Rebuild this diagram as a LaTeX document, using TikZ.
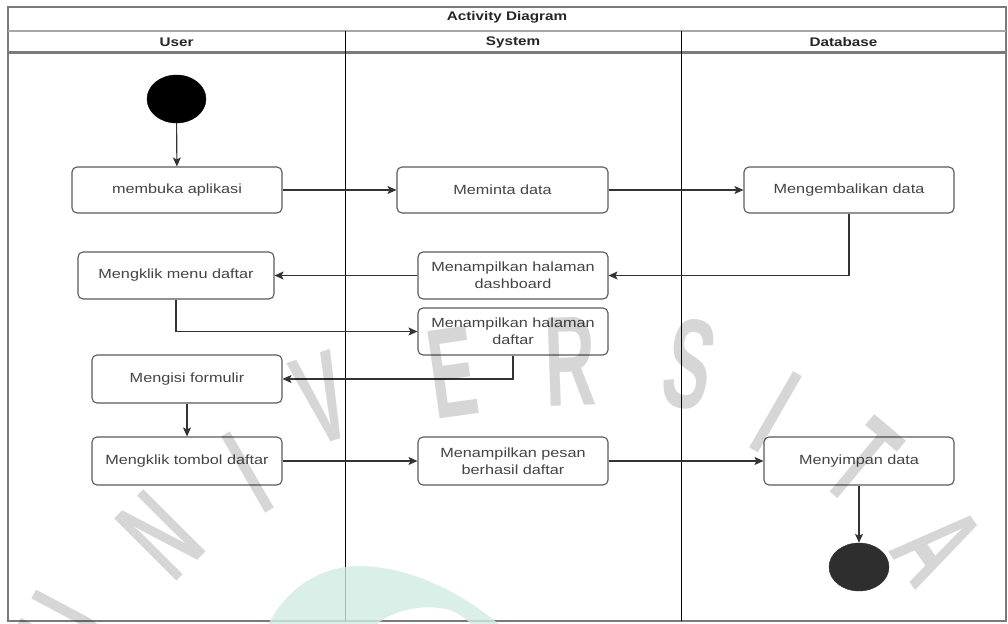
\documentclass[tikz,border=0pt]{standalone}
\usepackage{fontspec}
\setmainfont[FakeStretch=1.22]{Liberation Sans}
\newfontfamily\wmfont{Liberation Sans}
\usetikzlibrary{arrows.meta,shapes.geometric}
\definecolor{boxline}{HTML}{5A5A5A}
\definecolor{boxtext}{HTML}{444444}
\definecolor{laneline}{HTML}{7A7A7A}
\definecolor{teal}{HTML}{D3EBE4}
\tikzset{
  actbox/.style={draw=boxline, line width=1.1pt, rounded corners=5pt, fill=white,
    text=boxtext, align=center, font=\fontsize{13.3}{17}\selectfont, inner sep=2pt},
  startnode/.style={ellipse, fill=black, draw=black, minimum width=59pt, minimum height=48pt, inner sep=0pt},
  endnode/.style={ellipse, fill=black!82, draw=black!82, minimum width=60pt, minimum height=48pt, inner sep=0pt},
  flow/.style={draw=black!80, line width=1.1pt, -{Stealth[length=9pt,width=8pt,inset=2pt]}},
  hdr/.style={font=\bfseries\fontsize{12.5}{14}\selectfont, text=black!85},
  wm/.style={text=black, opacity=0.16, font=\wmfont\bfseries\fontsize{128}{128}\selectfont, inner sep=0pt}
}
\begin{document}
\begin{tikzpicture}[x=1pt,y=-1pt]
\useasboundingbox (0,0) rectangle (1008,623);
\fill[white] (0,0) rectangle (1008,623);

% pool frame, title band and lane headers
\draw[laneline, line width=1.6pt] (8,7) rectangle (1006,621);
\draw[black!35, line width=2.6pt] (8,31) -- (1006,31);
\draw[laneline, line width=2.6pt] (8,52.5) -- (1006,52.5);
\draw[black, line width=1pt] (345,31) -- (345,621);
\draw[black, line width=1pt] (681,31) -- (681,621);
\node[hdr] (title) at (507,17) {Activity Diagram};
\node[hdr] (huser) at (176.5,42) {User};
\node[hdr] (hsys) at (513,42) {System};
\node[hdr] (hdb) at (843.5,42) {Database};

% activities
\node[startnode] (start) at (176.5,99) {};
\node[actbox, minimum width=210pt, minimum height=46pt] (buka) at (177,190) {membuka aplikasi};
\node[actbox, minimum width=211pt, minimum height=46pt] (minta) at (502.5,190) {Meminta data};
\node[actbox, minimum width=210pt, minimum height=46pt] (kembali) at (849,190) {Mengembalikan data};
\node[actbox, minimum width=196pt, minimum height=47pt] (menu) at (176,275.5) {Mengklik menu daftar};
\node[actbox, minimum width=190pt, minimum height=47pt] (dash) at (513,275.5) {Menampilkan halaman\\dashboard};
\node[actbox, minimum width=190pt, minimum height=47pt] (hdaftar) at (513,331.5) {Menampilkan halaman\\daftar};
\node[actbox, minimum width=190pt, minimum height=48pt] (isi) at (187,379) {Mengisi formulir};
\node[actbox, minimum width=190pt, minimum height=48pt] (tombol) at (187,461) {Mengklik tombol daftar};
\node[actbox, minimum width=190pt, minimum height=48pt] (pesan) at (513,461) {Menampilkan pesan\\berhasil daftar};
\node[actbox, minimum width=190pt, minimum height=48pt] (simpan) at (859,461) {Menyimpan data};
\node[endnode] (end) at (859,567) {};

% control flow
\draw[flow] (start) -- (buka);
\draw[flow] (buka) -- (minta);
\draw[flow] (minta) -- (kembali);
\draw[flow] (kembali) |- (dash);
\draw[flow] (dash) -- (menu);
\draw[flow] (menu) |- (hdaftar);
\draw[flow] (hdaftar) |- (isi);
\draw[flow] (isi) -- (tombol);
\draw[flow] (tombol) -- (pesan);
\draw[flow] (pesan) -- (simpan);
\draw[flow] (simpan) -- (end);

% faint background seal
\begin{scope}
\clip (0,0) rectangle (1008,623);
\fill[teal, opacity=0.8, even odd rule]
  (268,625) .. controls (285,590) and (320,565) .. (362,566)
  .. controls (420,568) and (470,600) .. (500,625) -- cycle
  (376,625) .. controls (392,610) and (425,603) .. (450,610)
  .. controls (460,614) and (466,619) .. (472,625) -- cycle;
\end{scope}
\node[wm, rotate=62] (wu) at (66,630) {\scalebox{0.55}[1]{U}};
\node[wm, rotate=45] (wn) at (160,535) {\scalebox{0.55}[1]{N}};
\node[wm, rotate=30] (wi) at (248,472) {\scalebox{0.55}[1]{I}};
\node[wm, rotate=18] (wv) at (322,398) {\scalebox{0.55}[1]{V}};
\node[wm, rotate=8] (we) at (453,373) {\scalebox{0.55}[1]{E}};
\node[wm, rotate=2] (wr) at (570,362) {\scalebox{0.55}[1]{R}};
\node[wm, rotate=-12] (ws) at (690,364) {\scalebox{0.55}[1]{S}};
\node[wm, rotate=-30] (wi2) at (776,412) {\scalebox{0.55}[1]{I}};
\node[wm, rotate=-40] (wt) at (862,462) {\scalebox{0.55}[1]{T}};
\node[wm, rotate=-55] (wa) at (938,546) {\scalebox{0.55}[1]{A}};
\end{tikzpicture}
\end{document}
